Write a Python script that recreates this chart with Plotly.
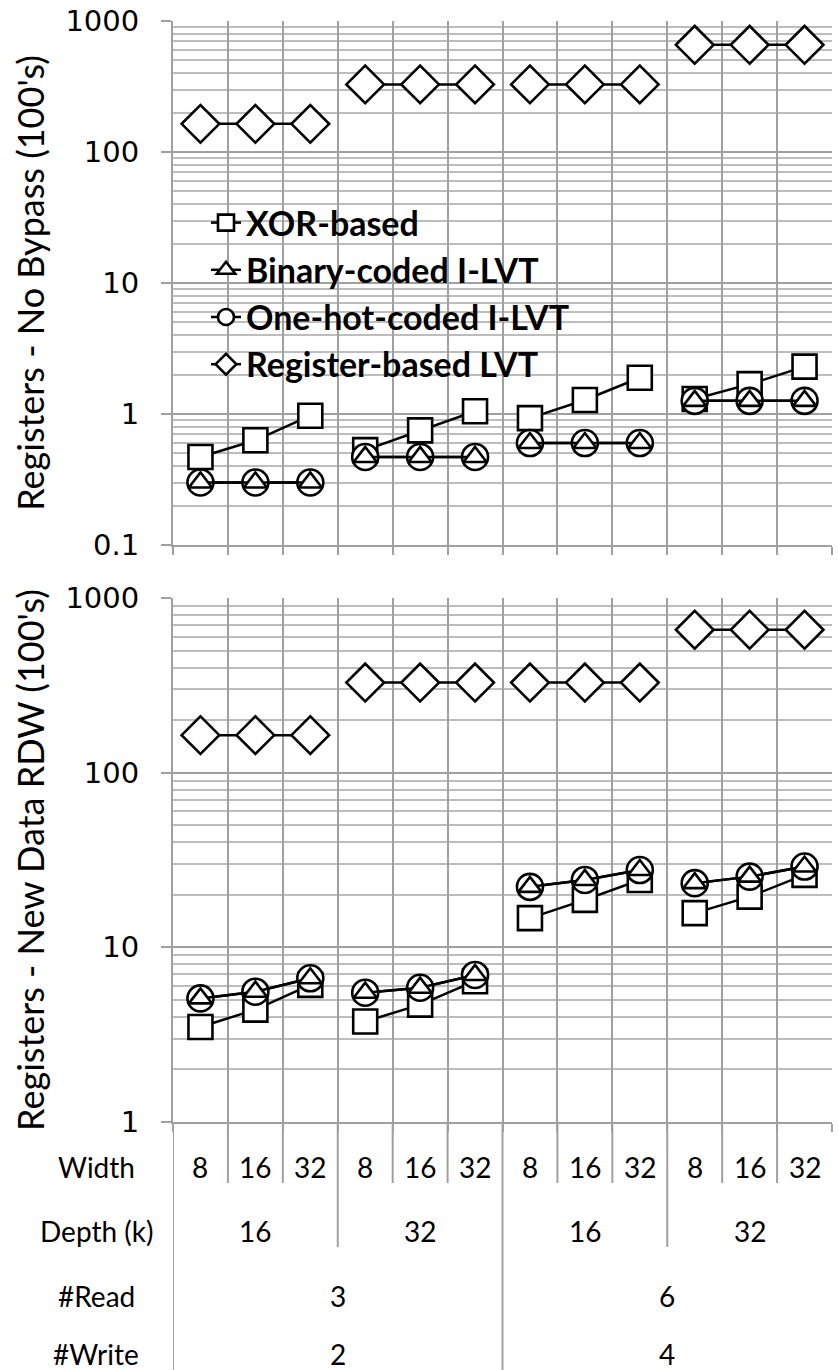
import plotly.graph_objects as go

# ---------------- data ----------------
width_labels = ["8", "16", "32", "8", "16", "32", "8", "16", "32", "8", "16", "32"]
depth_labels = ["16", "32", "16", "32"]
read_labels = ["3", "6"]
write_labels = ["2", "4"]
row_names = ["Width", "Depth (k)", "#Read", "#Write"]

series_names = ["XOR-based", "Binary-coded I-LVT", "One-hot-coded I-LVT", "Register-based LVT"]

# Registers - No Bypass (100's)
nobypass_xor = [0.47, 0.63, 0.97, 0.53, 0.75, 1.05, 0.93, 1.28, 1.89, 1.30, 1.69, 2.30]
nobypass_binary = [0.30, 0.30, 0.30, 0.47, 0.47, 0.47, 0.60, 0.60, 0.60, 1.26, 1.26, 1.26]
nobypass_onehot = [0.30, 0.30, 0.30, 0.47, 0.47, 0.47, 0.60, 0.60, 0.60, 1.26, 1.26, 1.26]
nobypass_reg = [164, 164, 164, 328, 328, 328, 328, 328, 328, 658, 658, 658]

# Registers - New Data RDW (100's)
newdata_xor = [3.5, 4.4, 6.1, 3.76, 4.7, 6.4, 14.7, 18.7, 24.3, 15.7, 19.5, 26.0]
newdata_binary = [5.1, 5.57, 6.65, 5.5, 5.87, 6.95, 22.2, 24.3, 27.7, 23.3, 25.4, 29.0]
newdata_onehot = [5.1, 5.57, 6.65, 5.5, 5.87, 6.95, 22.2, 24.3, 27.7, 23.3, 25.4, 29.0]
newdata_reg = [164, 164, 164, 328, 328, 328, 328, 328, 328, 658, 658, 658]

ytick_vals_top = [0.1, 1, 10, 100, 1000]
ytick_text_top = ["0.1", "1", "10", "100", "1000"]
ytick_vals_bot = [1, 10, 100, 1000]
ytick_text_bot = ["1", "10", "100", "1000"]

# ---------------- helpers ----------------
W, H = 838, 1370


def py(y):
    return 1 - y / H


def px(x):
    return x / W


def gapped(vals, group=3):
    xs, ys = [], []
    for i, v in enumerate(vals):
        if i > 0 and i % group == 0:
            xs.append(None)
            ys.append(None)
        xs.append(i)
        ys.append(v)
    return xs, ys


GRID = "#a0a0a0"
MINOR = "#bdbdbd"
FONT = "Lato"

styles = {
    "XOR-based": dict(symbol="square", size=24, rank=1),
    "Binary-coded I-LVT": dict(symbol="triangle-up", size=20, rank=2),
    "One-hot-coded I-LVT": dict(symbol="circle", size=26, rank=3),
    "Register-based LVT": dict(symbol="diamond", size=29, rank=4),
}

top_data = {
    "XOR-based": nobypass_xor,
    "Binary-coded I-LVT": nobypass_binary,
    "One-hot-coded I-LVT": nobypass_onehot,
    "Register-based LVT": nobypass_reg,
}
bot_data = {
    "XOR-based": newdata_xor,
    "Binary-coded I-LVT": newdata_binary,
    "One-hot-coded I-LVT": newdata_onehot,
    "Register-based LVT": newdata_reg,
}

draw_order = ["XOR-based", "One-hot-coded I-LVT", "Binary-coded I-LVT", "Register-based LVT"]

fig = go.Figure()

for panel, data, xa, ya in [("top", top_data, "x", "y"), ("bot", bot_data, "x2", "y2")]:
    for name in draw_order:
        st = styles[name]
        xs, ys = gapped(data[name])
        fig.add_trace(go.Scatter(
            x=xs, y=ys, mode="lines+markers", name=name,
            xaxis=xa, yaxis=ya,
            line=dict(color="black", width=2.5),
            marker=dict(symbol=st["symbol"], size=st["size"], color="white",
                        line=dict(color="black", width=2.6)),
            legendgroup=name, legendrank=st["rank"],
            showlegend=(panel == "top"),
            connectgaps=False,
        ))

n = len(width_labels)
boundaries = [i - 0.5 for i in range(n + 1)]

xaxis_common = dict(
    range=[-0.5, n - 0.5], tickmode="array", tickvals=boundaries,
    showticklabels=False, showgrid=True, gridcolor=GRID, gridwidth=2,
    ticks="outside", ticklen=8, tickcolor=GRID, tickwidth=2,
    showline=True, linecolor=GRID, linewidth=2, zeroline=False, fixedrange=True,
    automargin=False,
)

yaxis_common = dict(
    type="log", showgrid=True, gridcolor=GRID, gridwidth=2,
    ticks="outside", ticklen=10, tickcolor=GRID, tickwidth=2,
    showline=True, linecolor=GRID, linewidth=2, mirror=False,
    tickfont=dict(family="DejaVu Sans", size=29, color="black"),
    ticklabelstandoff=16,
    minor=dict(showgrid=True, gridcolor=MINOR, gridwidth=1.5, dtick="D1", ticks=""),
    zeroline=False, automargin=False,
)

fig.update_layout(
    width=W, height=H,
    margin=dict(l=0, r=0, t=0, b=0),
    paper_bgcolor="white", plot_bgcolor="white",
    xaxis=dict(domain=[px(173), px(832)], anchor="y", **xaxis_common),
    yaxis=dict(domain=[py(545), py(21)], anchor="x", range=[-1, 3],
               tickmode="array", tickvals=ytick_vals_top, ticktext=ytick_text_top,
               title=dict(text="Registers - No Bypass (100's)",
                          font=dict(family=FONT, size=36, color="black"), standoff=10),
               **yaxis_common),
    xaxis2=dict(domain=[px(173), px(832)], anchor="y2", **xaxis_common),
    yaxis2=dict(domain=[py(1122), py(598)], anchor="x2", range=[0, 3],
                tickmode="array", tickvals=ytick_vals_bot, ticktext=ytick_text_bot,
                title=dict(text="Registers - New Data RDW (100's)",
                           font=dict(family=FONT, size=36, color="black"), standoff=10),
                **yaxis_common),
    showlegend=True,
    legend=dict(
        x=px(206), y=py(194), xanchor="left", yanchor="top",
        bgcolor="rgba(0,0,0,0)", borderwidth=0,
        font=dict(family=FONT, size=34, color="black", weight="bold"),
        tracegroupgap=0, itemsizing="trace",
    ),
)

# ---------------- category table below bottom chart ----------------
annotations = []
shapes = []
TFONT = dict(family=FONT, size=28, color="black")
row_y = [1167, 1231, 1296, 1354]

# row names
for name, yy in zip(row_names, row_y):
    annotations.append(dict(text=name, x=px(96), y=py(yy), xref="paper", yref="paper",
                            showarrow=False, xanchor="center", yanchor="middle", font=TFONT))

# Width row
for i, lab in enumerate(width_labels):
    annotations.append(dict(text=lab, x=i, y=py(row_y[0]), xref="x2", yref="paper",
                            showarrow=False, xanchor="center", yanchor="middle", font=TFONT))
# Depth row
dgroup = n // len(depth_labels)
for j, lab in enumerate(depth_labels):
    annotations.append(dict(text=lab, x=j * dgroup + (dgroup - 1) / 2, y=py(row_y[1]),
                            xref="x2", yref="paper", showarrow=False,
                            xanchor="center", yanchor="middle", font=TFONT))
# Read / Write rows
pgroup = n // len(read_labels)
for j, (r, w) in enumerate(zip(read_labels, write_labels)):
    cx = j * pgroup + (pgroup - 1) / 2
    annotations.append(dict(text=r, x=cx, y=py(row_y[2]), xref="x2", yref="paper",
                            showarrow=False, xanchor="center", yanchor="middle", font=TFONT))
    annotations.append(dict(text=w, x=cx, y=py(row_y[3]), xref="x2", yref="paper",
                            showarrow=False, xanchor="center", yanchor="middle", font=TFONT))

# separators
for b in boundaries[:-1]:
    k = int(b + 0.5)
    if k % pgroup == 0:
        y_end = H
    elif k % dgroup == 0:
        y_end = 1247
    else:
        y_end = 1183
    shapes.append(dict(type="line", xref="x2", yref="paper", x0=b, x1=b,
                       y0=py(1122), y1=py(y_end), line=dict(color=GRID, width=2)))

fig.update_layout(annotations=annotations, shapes=shapes)

fig.write_html("out.html")
